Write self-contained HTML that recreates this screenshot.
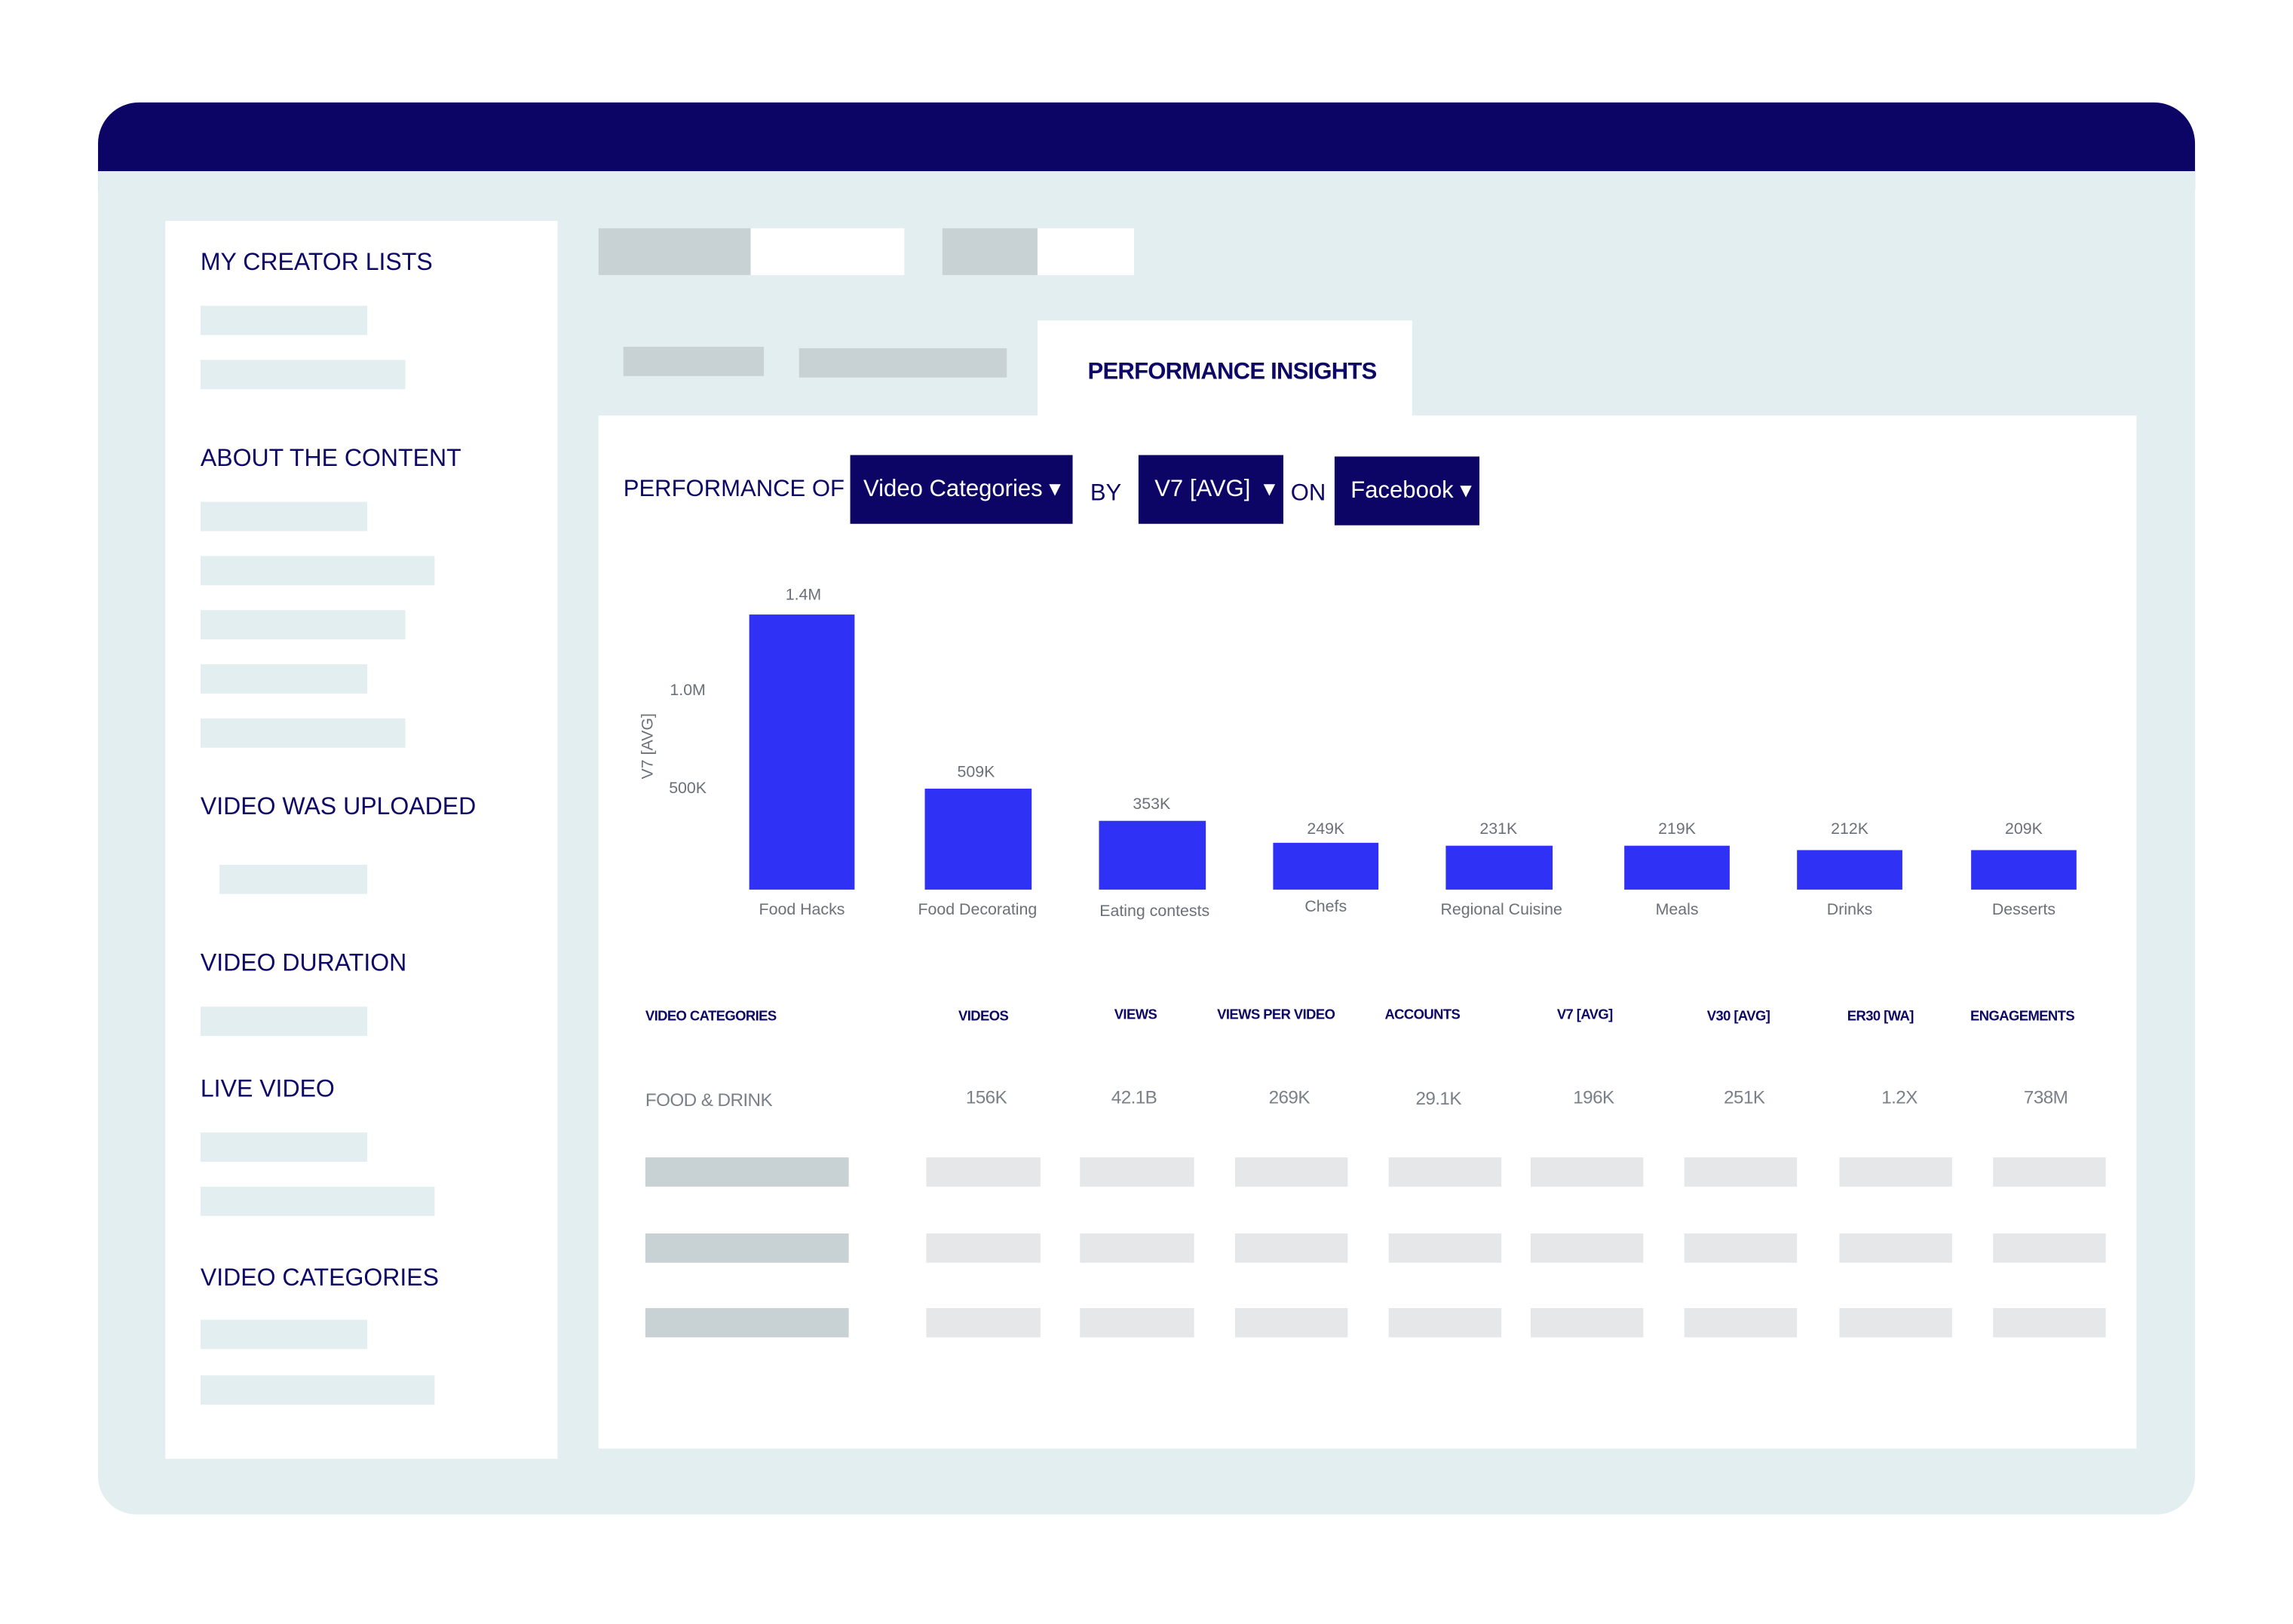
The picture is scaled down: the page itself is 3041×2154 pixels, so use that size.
<!DOCTYPE html>
<html><head><meta charset="utf-8"><style>
html,body{margin:0;padding:0;background:#fff;}
body{width:3041px;height:2144px;overflow:hidden;position:relative;font-family:"Liberation Sans",sans-serif;}
#s{position:absolute;left:0;top:0;width:1570px;height:1110px;transform:scale(1.9407);transform-origin:0 0;}
.a{position:absolute;}
.t{position:absolute;white-space:nowrap;}
.c{transform:translate(-50%,-50%);}
.l{transform:translateY(-50%);}
.h{color:#0d0866;font-size:16.5px;}
.sb{background:#e3eef0;height:20px;left:137px;}
.g{background:#c8d2d5;}
.lg{background:#e6e7e9;height:20px;}
.bar{background:#2f32f5;position:absolute;}
.v{font-size:11px;color:#6b7079;}
.th{font-size:9.5px;font-weight:bold;color:#0d0866;letter-spacing:-0.3px;}
.td{font-size:12.5px;color:#7a8088;letter-spacing:-0.3px;}
.dd{background:#0c0566;color:#fff;font-size:16px;position:absolute;}
</style></head><body><div id="s">
<div class="a" style="left:67px;top:70px;width:1433px;height:60px;background:#0c0566;border-radius:28px 28px 0 0;"></div>
<div class="a" style="left:67px;top:117px;width:1433px;height:918px;background:#e3eef0;border-radius:0 0 26px 26px;"></div>

<div class="a" style="left:113px;top:151px;width:268px;height:846px;background:#fff;"></div>
<div class="t h l" style="left:137px;top:180px;">MY CREATOR LISTS</div>
<div class="a sb" style="top:209px;width:114px;"></div>
<div class="a sb" style="top:246px;width:140px;"></div>
<div class="t h l" style="left:137px;top:314px;">ABOUT THE CONTENT</div>
<div class="a sb" style="top:343px;width:114px;"></div>
<div class="a sb" style="top:380px;width:160px;"></div>
<div class="a sb" style="top:417px;width:140px;"></div>
<div class="a sb" style="top:454px;width:114px;"></div>
<div class="a sb" style="top:491px;width:140px;"></div>
<div class="t h l" style="left:137px;top:552px;">VIDEO WAS UPLOADED</div>
<div class="a sb" style="left:150px;top:591px;width:101px;"></div>
<div class="t h l" style="left:137px;top:659px;">VIDEO DURATION</div>
<div class="a sb" style="top:688px;width:114px;"></div>
<div class="t h l" style="left:137px;top:745px;">LIVE VIDEO</div>
<div class="a sb" style="top:774px;width:114px;"></div>
<div class="a sb" style="top:811px;width:160px;"></div>
<div class="t h l" style="left:137px;top:874px;">VIDEO CATEGORIES</div>
<div class="a sb" style="top:902px;width:114px;"></div>
<div class="a sb" style="top:940px;width:160px;"></div>

<div class="a g" style="left:409px;top:156px;width:104px;height:32px;"></div>
<div class="a" style="left:513px;top:156px;width:105px;height:32px;background:#fff;"></div>
<div class="a g" style="left:644px;top:156px;width:65px;height:32px;"></div>
<div class="a" style="left:709px;top:156px;width:66px;height:32px;background:#fff;"></div>
<div class="a g" style="left:426px;top:237px;width:96px;height:20px;"></div>
<div class="a g" style="left:546px;top:238px;width:142px;height:20px;"></div>
<div class="a" style="left:709px;top:219px;width:256px;height:70px;background:#fff;"></div>
<div class="t c" style="left:842px;top:255px;font-size:16px;font-weight:bold;color:#0d0866;letter-spacing:-0.4px;">PERFORMANCE INSIGHTS</div>

<div class="a" style="left:409px;top:284px;width:1051px;height:706px;background:#fff;"></div>
<div class="t h l" style="left:426px;top:335px;font-size:16px;">PERFORMANCE OF</div>
<div class="dd" style="left:581px;top:311px;width:152px;height:47px;"><span class="t l" style="left:9px;top:23px;">Video Categories ▾</span></div>
<div class="t h l" style="left:745px;top:338px;font-size:16px;">BY</div>
<div class="dd" style="left:778px;top:311px;width:99px;height:47px;"><span class="t l" style="left:11px;top:23px;">V7 [AVG] &nbsp;▾</span></div>
<div class="t h l" style="left:882px;top:338px;font-size:16px;">ON</div>
<div class="dd" style="left:912px;top:312px;width:99px;height:47px;"><span class="t l" style="left:11px;top:23px;">Facebook ▾</span></div>

<div class="t v c" style="left:470px;top:472px;">1.0M</div>
<div class="t v c" style="left:470px;top:539px;">500K</div>
<div class="t v c" style="left:443px;top:510px;transform:translate(-50%,-50%) rotate(-90deg);">V7 [AVG]</div>

<div class="bar" style="left:512px;top:420px;width:72px;height:188px;"></div>
<div class="bar" style="left:632px;top:539px;width:73px;height:69px;"></div>
<div class="bar" style="left:751px;top:561px;width:73px;height:47px;"></div>
<div class="bar" style="left:870px;top:576px;width:72px;height:32px;"></div>
<div class="bar" style="left:988px;top:578px;width:73px;height:30px;"></div>
<div class="bar" style="left:1110px;top:578px;width:72px;height:30px;"></div>
<div class="bar" style="left:1228px;top:581px;width:72px;height:27px;"></div>
<div class="bar" style="left:1347px;top:581px;width:72px;height:27px;"></div>
<div class="t v c" style="left:549px;top:407px;">1.4M</div>
<div class="t v c" style="left:667px;top:528px;">509K</div>
<div class="t v c" style="left:787px;top:550px;">353K</div>
<div class="t v c" style="left:906px;top:567px;">249K</div>
<div class="t v c" style="left:1024px;top:567px;">231K</div>
<div class="t v c" style="left:1146px;top:567px;">219K</div>
<div class="t v c" style="left:1264px;top:567px;">212K</div>
<div class="t v c" style="left:1383px;top:567px;">209K</div>
<div class="t v c" style="left:548px;top:622px;">Food Hacks</div>
<div class="t v c" style="left:668px;top:622px;">Food Decorating</div>
<div class="t v c" style="left:789px;top:623px;">Eating contests</div>
<div class="t v c" style="left:906px;top:620px;">Chefs</div>
<div class="t v c" style="left:1026px;top:622px;">Regional Cuisine</div>
<div class="t v c" style="left:1146px;top:622px;">Meals</div>
<div class="t v c" style="left:1264px;top:622px;">Drinks</div>
<div class="t v c" style="left:1383px;top:622px;">Desserts</div>

<div class="t th l" style="left:441px;top:695px;">VIDEO CATEGORIES</div>
<div class="t th c" style="left:672px;top:695px;">VIDEOS</div>
<div class="t th c" style="left:776px;top:694px;">VIEWS</div>
<div class="t th c" style="left:872px;top:694px;">VIEWS PER VIDEO</div>
<div class="t th c" style="left:972px;top:694px;">ACCOUNTS</div>
<div class="t th c" style="left:1083px;top:694px;">V7 [AVG]</div>
<div class="t th c" style="left:1188px;top:695px;">V30 [AVG]</div>
<div class="t th c" style="left:1285px;top:695px;">ER30 [WA]</div>
<div class="t th c" style="left:1382px;top:695px;">ENGAGEMENTS</div>

<div class="t td l" style="left:441px;top:752px;">FOOD &amp; DRINK</div>
<div class="t td c" style="left:674px;top:750px;">156K</div>
<div class="t td c" style="left:775px;top:750px;">42.1B</div>
<div class="t td c" style="left:881px;top:750px;">269K</div>
<div class="t td c" style="left:983px;top:751px;">29.1K</div>
<div class="t td c" style="left:1089px;top:750px;">196K</div>
<div class="t td c" style="left:1192px;top:750px;">251K</div>
<div class="t td c" style="left:1298px;top:750px;">1.2X</div>
<div class="t td c" style="left:1398px;top:750px;">738M</div>

<div class="a g" style="left:441px;top:791px;width:139px;height:20px;"></div>
<div class="a g" style="left:441px;top:843px;width:139px;height:20px;"></div>
<div class="a g" style="left:441px;top:894px;width:139px;height:20px;"></div>
<div class="a lg" style="left:633px;top:791px;width:78px;"></div><div class="a lg" style="left:738px;top:791px;width:78px;"></div><div class="a lg" style="left:844px;top:791px;width:77px;"></div><div class="a lg" style="left:949px;top:791px;width:77px;"></div><div class="a lg" style="left:1046px;top:791px;width:77px;"></div><div class="a lg" style="left:1151px;top:791px;width:77px;"></div><div class="a lg" style="left:1257px;top:791px;width:77px;"></div><div class="a lg" style="left:1362px;top:791px;width:77px;"></div>
<div class="a lg" style="left:633px;top:843px;width:78px;"></div><div class="a lg" style="left:738px;top:843px;width:78px;"></div><div class="a lg" style="left:844px;top:843px;width:77px;"></div><div class="a lg" style="left:949px;top:843px;width:77px;"></div><div class="a lg" style="left:1046px;top:843px;width:77px;"></div><div class="a lg" style="left:1151px;top:843px;width:77px;"></div><div class="a lg" style="left:1257px;top:843px;width:77px;"></div><div class="a lg" style="left:1362px;top:843px;width:77px;"></div>
<div class="a lg" style="left:633px;top:894px;width:78px;"></div><div class="a lg" style="left:738px;top:894px;width:78px;"></div><div class="a lg" style="left:844px;top:894px;width:77px;"></div><div class="a lg" style="left:949px;top:894px;width:77px;"></div><div class="a lg" style="left:1046px;top:894px;width:77px;"></div><div class="a lg" style="left:1151px;top:894px;width:77px;"></div><div class="a lg" style="left:1257px;top:894px;width:77px;"></div><div class="a lg" style="left:1362px;top:894px;width:77px;"></div>
</div></body></html>
